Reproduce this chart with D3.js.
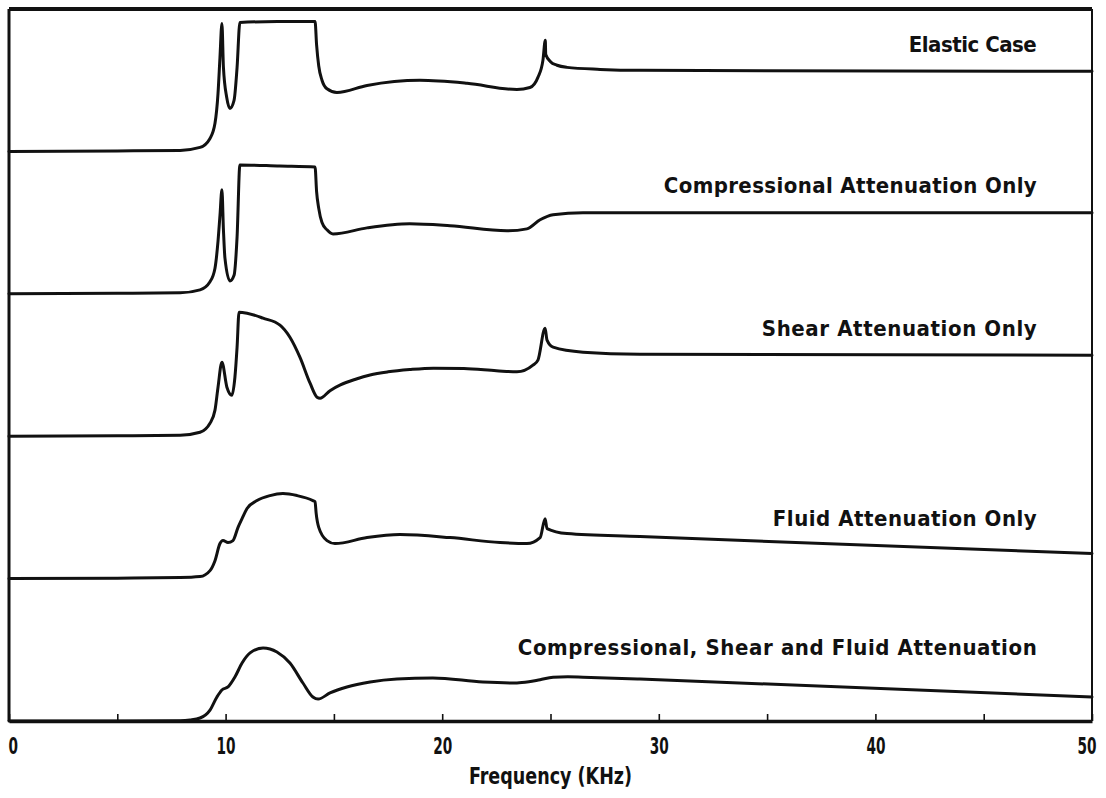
<!DOCTYPE html>
<html>
<head>
<meta charset="utf-8">
<script src="https://cdn.jsdelivr.net/npm/d3@7"></script>
<style>
  html, body { margin: 0; padding: 0; background: #fff; }
  svg text { font-family: "DejaVu Sans Condensed", "DejaVu Sans", sans-serif; font-stretch: condensed; font-weight: bold; fill: #111; }
</style>
</head>
<body>
<svg id="chart" width="1106" height="798"></svg>
<script>
// ---- data (frequency in KHz, amplitude in panel units above each trace's baseline) ----
const seriesNames = [
  "Elastic Case",
  "Compressional Attenuation Only",
  "Shear Attenuation Only",
  "Fluid Attenuation Only",
  "Compressional, Shear and Fluid Attenuation"
];
const seriesOffsets = [4, 3, 2, 1, 0];

const elasticFreq = [0, 5, 7.9, 8.82, 9.28, 9.51, 9.65, 9.74, 9.83, 9.9, 10.05, 10.2, 10.39, 10.53, 10.66, 12.4, 14.13, 14.2, 14.3, 14.45, 14.68, 15.14, 16.53, 18.97, 21.15, 23.45, 24.05, 24.42, 24.65, 24.76, 24.78, 25.0, 25.3, 25.76, 27.29, 29.13, 50];
const elasticAmp  = [0, 0.003, 0.007, 0.028, 0.091, 0.197, 0.407, 0.66, 0.899, 0.59, 0.38, 0.302, 0.358, 0.59, 0.906, 0.912, 0.913, 0.75, 0.6, 0.5, 0.44, 0.414, 0.463, 0.499, 0.478, 0.435, 0.449, 0.52, 0.639, 0.78, 0.68, 0.63, 0.605, 0.59, 0.576, 0.569, 0.562];

const compFreq = [0, 5, 7.9, 8.82, 9.28, 9.51, 9.65, 9.74, 9.83, 9.9, 9.97, 10.2, 10.39, 10.53, 10.66, 12.5, 14.13, 14.2, 14.3, 14.45, 14.68, 14.96, 16.53, 18.5, 20.36, 22.99, 23.91, 24.52, 25.12, 26.5, 29.13, 50];
const compAmp  = [0, 0.003, 0.007, 0.028, 0.085, 0.18, 0.37, 0.55, 0.73, 0.45, 0.25, 0.09, 0.13, 0.4, 0.905, 0.897, 0.89, 0.72, 0.6, 0.5, 0.449, 0.42, 0.463, 0.492, 0.478, 0.442, 0.456, 0.52, 0.555, 0.569, 0.569, 0.569];

const shearFreq = [0, 5, 7.9, 8.82, 9.28, 9.51, 9.65, 9.83, 10.06, 10.29, 10.43, 10.53, 10.62, 10.99, 11.73, 12.51, 12.97, 13.43, 13.9, 14.22, 14.36, 14.82, 15.3, 16.0, 16.67, 17.5, 18.5, 19.6, 21.0, 22.5, 23.45, 24.19, 24.42, 24.75, 24.84, 25.12, 26.5, 29.13, 50];
const shearAmp  = [0, 0.003, 0.007, 0.028, 0.091, 0.183, 0.344, 0.52, 0.344, 0.288, 0.414, 0.625, 0.871, 0.864, 0.829, 0.78, 0.695, 0.555, 0.372, 0.274, 0.267, 0.32, 0.36, 0.40, 0.43, 0.452, 0.468, 0.478, 0.475, 0.46, 0.452, 0.499, 0.534, 0.758, 0.674, 0.625, 0.59, 0.576, 0.569];

const fluidFreq = [0, 5, 7.9, 8.82, 9.28, 9.51, 9.74, 9.88, 10.11, 10.34, 10.57, 10.76, 10.99, 11.45, 12.05, 12.65, 13.3, 14.03, 14.13, 14.18, 14.3, 14.68, 15.05, 16.53, 18.05, 20.36, 22.67, 23.91, 24.52, 24.75, 24.84, 25.76, 29.13, 50];
const fluidAmp  = [0, 0.003, 0.007, 0.014, 0.056, 0.126, 0.246, 0.267, 0.253, 0.267, 0.358, 0.421, 0.492, 0.548, 0.583, 0.597, 0.583, 0.548, 0.54, 0.46, 0.36, 0.267, 0.246, 0.288, 0.309, 0.288, 0.253, 0.246, 0.288, 0.421, 0.351, 0.316, 0.295, 0.176];

const combFreq = [0, 5, 7.9, 8.36, 8.82, 9.28, 9.6, 9.83, 10.11, 10.43, 10.76, 11.13, 11.73, 12.37, 12.97, 13.57, 14.03, 14.27, 14.82, 15.6, 16.67, 17.91, 19.57, 21.88, 23.45, 24.0, 24.52, 25.12, 25.8, 26.5, 29.13, 50];
const combAmp  = [0, 0, 0.002, 0.007, 0.021, 0.077, 0.169, 0.218, 0.239, 0.309, 0.407, 0.478, 0.513, 0.485, 0.407, 0.267, 0.169, 0.154, 0.197, 0.239, 0.274, 0.295, 0.302, 0.274, 0.267, 0.275, 0.29, 0.307, 0.311, 0.308, 0.295, 0.169];

const tickValues = [0, 5, 10, 15, 20, 25, 30, 35, 40, 45, 50];
const tickLabels = ["0", "", "10", "", "20", "", "30", "", "40", "", "50"];
const xTitle = "Frequency (KHz)";

// ---- layout ----
const labelLevels = [0.70, 0.708, 0.704, 0.369, 0.463];
const labelWidths = [128, 373, 275, 264, 519];

const svg = d3.select("#chart");
const x = d3.scaleLinear().domain([0, 50]).range([9, 1092]);
const y = d3.scaleLinear().domain([0, 5]).range([721, 9]);

const freqs = [elasticFreq, compFreq, shearFreq, fluidFreq, combFreq];
const amps = [elasticAmp, compAmp, shearAmp, fluidAmp, combAmp];

// frame
svg.append("line").attr("x1", x(0)).attr("x2", x(50)).attr("y1", y(5)).attr("y2", y(5))
  .attr("stroke", "#111").attr("stroke-width", 4);
svg.append("line").attr("x1", x(0)).attr("x2", x(0)).attr("y1", y(5)).attr("y2", y(0))
  .attr("stroke", "#111").attr("stroke-width", 3);
svg.append("line").attr("x1", x(50)).attr("x2", x(50)).attr("y1", y(5)).attr("y2", y(0))
  .attr("stroke", "#111").attr("stroke-width", 2);

// axis
const axis = d3.axisBottom(x).tickValues(tickValues)
  .tickFormat((d, i) => tickLabels[i]).tickSizeInner(-7).tickSizeOuter(0).tickPadding(17);
const gAxis = svg.append("g").attr("transform", `translate(0,${y(0)})`).call(axis);
gAxis.select(".domain").attr("stroke", "#111").attr("stroke-width", 3.5);
gAxis.selectAll(".tick line").attr("stroke", "#111").attr("stroke-width", 1.6);
gAxis.selectAll(".tick text").attr("font-size", 23).attr("fill", "#111")
  .style("font-family", '"DejaVu Sans Condensed", "DejaVu Sans", sans-serif').style("font-weight", "bold")
  .attr("textLength", (d, i) => tickLabels[i].length * 9.5 || null)
  .attr("lengthAdjust", "spacingAndGlyphs")
  .attr("text-anchor", d => d === 0 ? "start" : (d === 50 ? "end" : "middle"))
  .attr("dx", d => d === 0 ? -1 : (d === 50 ? 4 : 0));

svg.append("text").attr("x", x(25)).attr("y", 784).attr("text-anchor", "middle")
  .attr("font-size", 23).attr("textLength", 163).attr("lengthAdjust", "spacingAndGlyphs").text(xTitle);

// traces
seriesNames.forEach((name, i) => {
  const off = seriesOffsets[i];
  const pts = freqs[i].map((f, j) => [f, amps[i][j]]);
  const line = d3.line().x(d => x(d[0])).y(d => y(d[1] + off)).curve(d3.curveMonotoneX);
  svg.append("path").datum(pts).attr("d", line)
    .attr("fill", "none").attr("stroke", "#111").attr("stroke-width", 3)
    .attr("stroke-linejoin", "round").attr("stroke-linecap", "round");
  svg.append("text").attr("x", x(47.45)).attr("y", y(off + labelLevels[i]))
    .attr("text-anchor", "end").attr("font-size", 22)
    .attr("textLength", labelWidths[i]).attr("lengthAdjust", "spacing")
    .text(name);
});
</script>
</body>
</html>
